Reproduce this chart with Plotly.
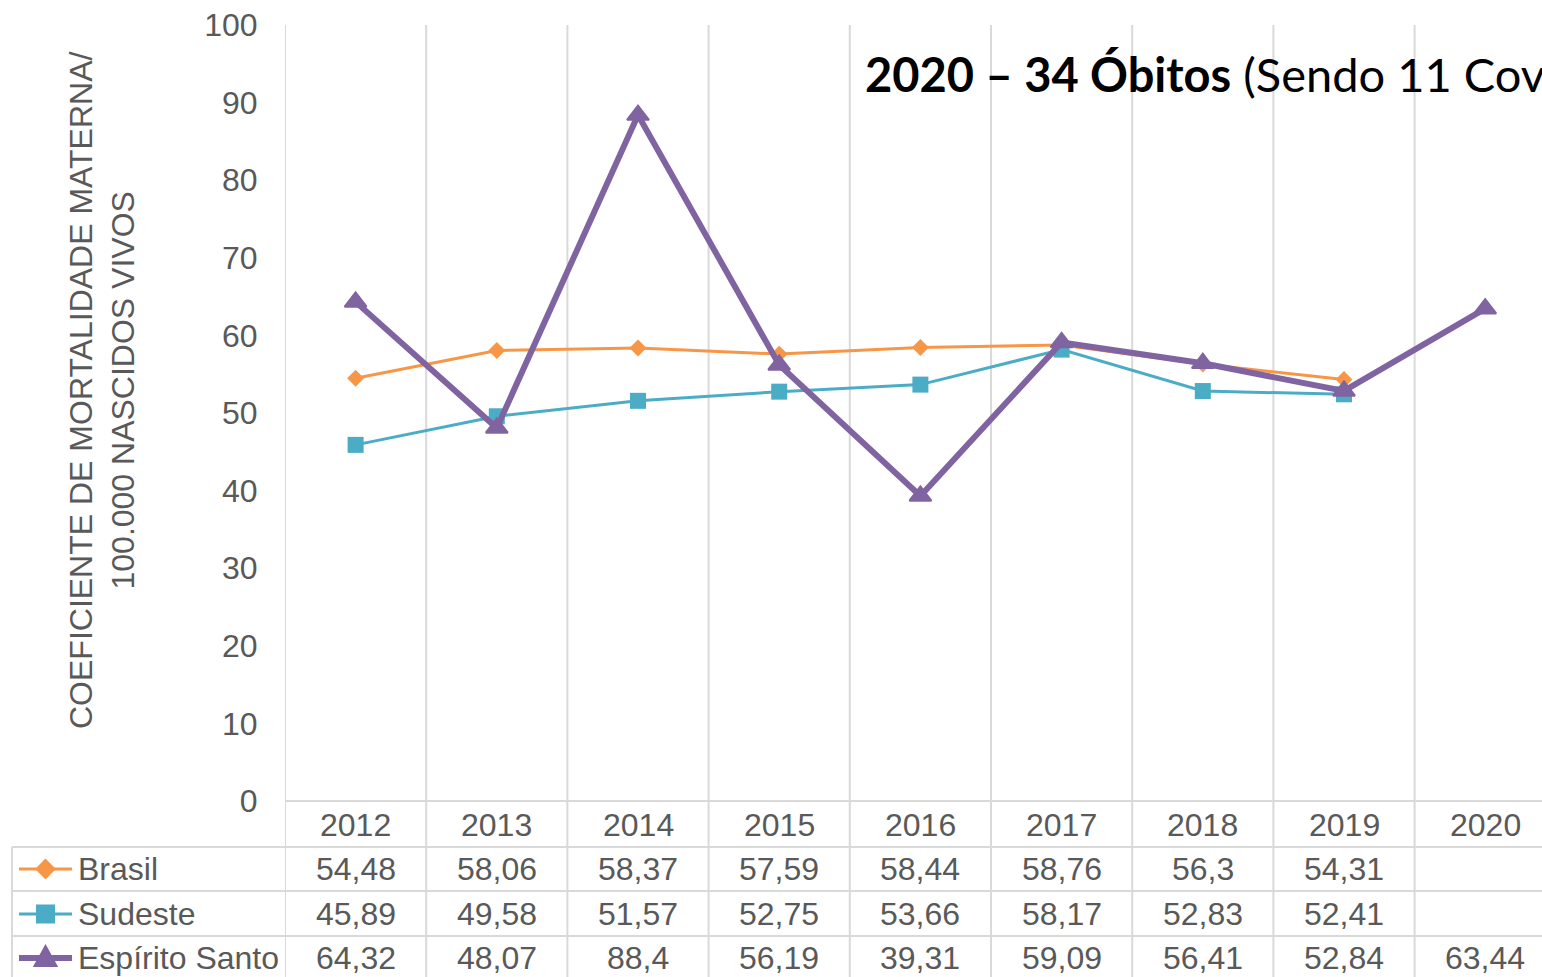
import plotly.graph_objects as go

years = ["2012", "2013", "2014", "2015", "2016", "2017", "2018", "2019", "2020"]
brasil = [54.48, 58.06, 58.37, 57.59, 58.44, 58.76, 56.3, 54.31, None]
sudeste = [45.89, 49.58, 51.57, 52.75, 53.66, 58.17, 52.83, 52.41, None]
espirito_santo = [64.32, 48.07, 88.4, 56.19, 39.31, 59.09, 56.41, 52.84, 63.44]
series_names = ["Brasil", "Sudeste", "Espírito Santo"]
y_ticks = [0, 10, 20, 30, 40, 50, 60, 70, 80, 90, 100]
title_bold = "2020 – 34 Óbitos"
title_rest = " (Sendo 11 Covid)"
y_title = ["COEFICIENTE DE MORTALIDADE MATERNA/", "100.000 NASCIDOS VIVOS"]

W, H = 1542, 977
L, T, B = 285, 25, 801
PW, PH = W - L, B - T
CAT_W = 141.2
x_max = -0.5 + PW / CAT_W
YMAX = 100

def px_x(px):
    return (px - L) / PW

def px_y(py):
    return (B - py) / PH

colors = ["#F79646", "#4BACC6", "#8064A2"]
symbols = ["diamond", "square", "triangle-up"]
msizes = [13, 16, 19]
mlines = [0, 0, 2]
lwidths = [3, 3, 6]
all_series = [brasil, sudeste, espirito_santo]
TXT = "#595959"
GRID = "#D9D9D9"
FONT = "Liberation Sans, Arial, sans-serif"
FS = 32

xs = list(range(len(years)))
fig = go.Figure()
for name, vals, c, s, ms, ml, lw in zip(series_names, all_series, colors, symbols, msizes, mlines, lwidths):
    fig.add_trace(go.Scatter(
        x=xs, y=vals, mode="lines+markers", name=name,
        line=dict(color=c, width=lw), connectgaps=False,
        marker=dict(symbol=s, size=ms, color=c, line=dict(width=ml, color=c)),
        showlegend=False, cliponaxis=False,
    ))

shapes = []
row_lines = [847, 891, 936]
row_centers = [869, 914, 958]
header_center = 825
for i in range(len(years) + 1):
    xv = -0.5 + i
    shapes.append(dict(type="line", xref="x", yref="paper", x0=xv, x1=xv,
                       y0=px_y(T), y1=px_y(H + 5), line=dict(color=GRID, width=2), layer="below"))
shapes.append(dict(type="line", xref="paper", yref="paper", x0=px_x(12), x1=px_x(12),
                   y0=px_y(847), y1=px_y(H + 5), line=dict(color=GRID, width=2)))
shapes.append(dict(type="line", xref="paper", yref="paper", x0=0, x1=1.05,
                   y0=0, y1=0, line=dict(color=GRID, width=2)))
for ry in row_lines:
    shapes.append(dict(type="line", xref="paper", yref="paper", x0=px_x(12), x1=1.05,
                       y0=px_y(ry), y1=px_y(ry), line=dict(color=GRID, width=2)))

# legend keys (line + marker glyph) inside the data table
def path_from_px(points):
    return "M " + " L ".join(f"{px_x(a):.5f},{px_y(b):.5f}" for a, b in points) + " Z"

key_cx = 45.5
for c, lw, ry, s in zip(colors, lwidths, row_centers, symbols):
    shapes.append(dict(type="line", xref="paper", yref="paper", x0=px_x(19), x1=px_x(72),
                       y0=px_y(ry), y1=px_y(ry), line=dict(color=c, width=lw)))
    if s == "diamond":
        pts = [(key_cx, ry - 9), (key_cx + 9, ry), (key_cx, ry + 9), (key_cx - 9, ry)]
    elif s == "square":
        pts = [(key_cx - 8.5, ry - 8.5), (key_cx + 8.5, ry - 8.5), (key_cx + 8.5, ry + 8.5), (key_cx - 8.5, ry + 8.5)]
    else:
        pts = [(key_cx, ry - 12), (key_cx + 11, ry + 8), (key_cx - 11, ry + 8)]
    shapes.append(dict(type="path", xref="paper", yref="paper", path=path_from_px(pts),
                       fillcolor=c, line=dict(color=c, width=2)))

annotations = []
for i, yr in enumerate(years):
    annotations.append(dict(x=i, y=px_y(header_center), xref="x", yref="paper", text=yr,
                            xanchor="center", yanchor="middle", showarrow=False,
                            font=dict(family=FONT, size=FS, color=TXT)))
for vals, ry in zip(all_series, row_centers):
    for i, v in enumerate(vals):
        if v is None:
            continue
        t = f"{v:g}".replace(".", ",")
        annotations.append(dict(x=i, y=px_y(ry), xref="x", yref="paper", text=t,
                                xanchor="center", yanchor="middle", showarrow=False,
                                font=dict(family=FONT, size=FS, color=TXT)))
for name, ry in zip(series_names, row_centers):
    annotations.append(dict(x=px_x(76), y=px_y(ry), xref="paper", yref="paper", text=name,
                            xanchor="left", yanchor="middle", showarrow=False,
                            font=dict(family=FONT, size=FS, color=TXT)))
annotations.append(dict(x=px_x(102), y=px_y(390), xref="paper", yref="paper",
                        text="<br>".join(y_title), textangle=-90, showarrow=False,
                        xanchor="center", yanchor="middle",
                        font=dict(family=FONT, size=FS, color=TXT)))
annotations.append(dict(x=px_x(863), y=px_y(74), xref="paper", yref="paper",
                        text=f"<b>{title_bold}</b>{title_rest}", xanchor="left", yanchor="middle",
                        showarrow=False, font=dict(family="Lato, sans-serif", size=47, color="black")))

fig.update_layout(
    width=W, height=H, margin=dict(l=L, r=0, t=T, b=H - B, pad=0),
    paper_bgcolor="white", plot_bgcolor="white",
    shapes=shapes, annotations=annotations,
    xaxis=dict(range=[-0.5, x_max], tickvals=[-0.5 + i for i in range(len(years))],
               showticklabels=False, showgrid=False, zeroline=False, showline=False, fixedrange=True),
    yaxis=dict(range=[0, YMAX], tickvals=y_ticks, showgrid=False, zeroline=False, showline=False,
               ticks="outside", ticklen=0, ticklabelstandoff=20,
               tickfont=dict(family=FONT, size=FS, color=TXT)),
)

fig.write_html("out.html", config={"displayModeBar": False},
               post_script="document.body.style.margin='0';document.body.style.overflow='hidden';")
